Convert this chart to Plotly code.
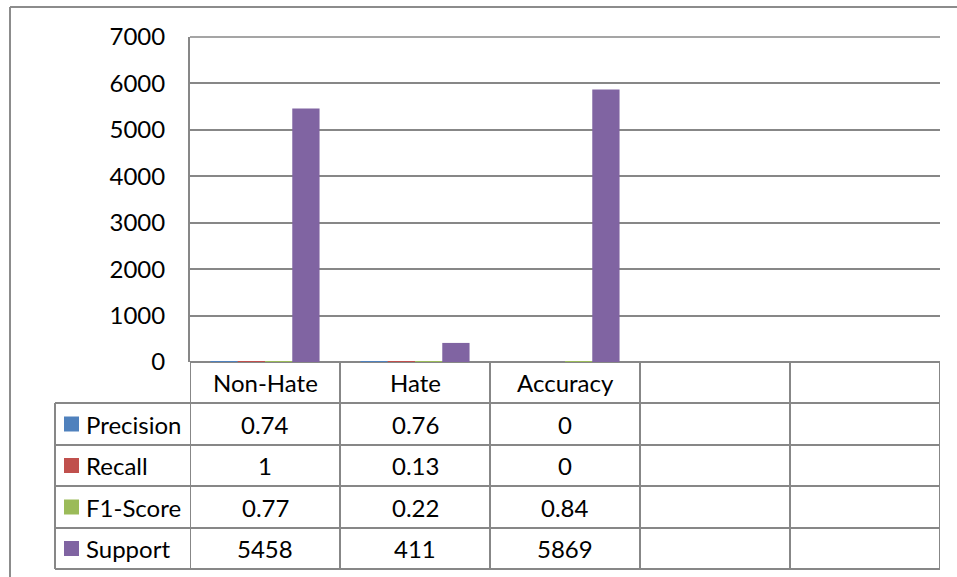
import plotly.graph_objects as go

# Classification report per class
categories = ["Non-Hate", "Hate", "Accuracy", " ", "  "]
series_names = ["Precision", "Recall", "F1-Score", "Support"]
precision = [0.74, 0.76, 0, None, None]
recall = [1, 0.13, 0, None, None]
f1_score = [0.77, 0.22, 0.84, None, None]
support = [5458, 411, 5869, None, None]
series_colors = ["#4F81BD", "#C0504D", "#9BBB59", "#8064A2"]
y_ticks = [0, 1000, 2000, 3000, 4000, 5000, 6000, 7000]

series_values = [precision, recall, f1_score, support]

W, H = 957, 577
L, R, T, B = 190, 17, 37, 215
PW, PH = W - L - R, H - T - B
FONT = "Lato"
FS = 24
GRID = "#878787"


def px_x(px):
    return (px - L) / PW


def px_y(py):
    return (H - B - py) / PH


fig = go.Figure()
for name, vals, col in zip(series_names, series_values, series_colors):
    fig.add_trace(go.Bar(x=categories, y=vals, name=name, marker_color=col,
                         marker_line_width=0, showlegend=False))

shapes = []
annotations = []

# top edge of the plot area (7000 gridline)
shapes.append(dict(type="line", xref="paper", yref="paper",
                   x0=0, x1=1, y0=1, y1=1, line=dict(color=GRID, width=1.5)))

# data table grid
row_lines = [362, 403, 445, 486, 528, 569]
table_left = 55
for i, py in enumerate(row_lines[1:]):
    shapes.append(dict(type="line", xref="paper", yref="paper",
                       x0=px_x(table_left), x1=1, y0=px_y(py), y1=px_y(py),
                       line=dict(color=GRID, width=2)))
shapes.append(dict(type="line", xref="paper", yref="paper",
                   x0=px_x(table_left), x1=px_x(table_left),
                   y0=px_y(row_lines[1]), y1=px_y(row_lines[-1]),
                   line=dict(color=GRID, width=2)))
for k in range(len(categories) + 1):
    shapes.append(dict(type="line", xref="x", yref="paper",
                       x0=k - 0.5, x1=k - 0.5,
                       y0=px_y(row_lines[0]), y1=px_y(row_lines[-1]),
                       line=dict(color=GRID, width=2)))

# header row: category names
hdr_y = px_y((row_lines[0] + row_lines[1]) / 2)
for k, c in enumerate(categories):
    annotations.append(dict(x=k, y=hdr_y, xref="x", yref="paper", text=c,
                            showarrow=False, font=dict(family=FONT, size=FS, color="black"),
                            xanchor="center", yanchor="middle"))

# series rows
for r, (name, vals, col) in enumerate(zip(series_names, series_values, series_colors)):
    yc = px_y((row_lines[r + 1] + row_lines[r + 2]) / 2)
    shapes.append(dict(type="rect", xref="paper", yref="paper",
                       x0=px_x(64), x1=px_x(79),
                       y0=yc - 7.5 / PH, y1=yc + 7.5 / PH,
                       fillcolor=col, line=dict(width=0)))
    annotations.append(dict(x=px_x(84), y=yc, xref="paper", yref="paper", text=name,
                            showarrow=False, font=dict(family=FONT, size=FS, color="black"),
                            xanchor="left", yanchor="middle"))
    for k, v in enumerate(vals):
        if v is None:
            continue
        annotations.append(dict(x=k, y=yc, xref="x", yref="paper", text=f"{v:g}",
                                showarrow=False, font=dict(family=FONT, size=FS, color="black"),
                                xanchor="center", yanchor="middle"))

# chart area frame (top and left edges)
shapes.append(dict(type="line", xref="paper", yref="paper",
                   x0=px_x(10), x1=px_x(W + 5), y0=px_y(7), y1=px_y(7),
                   line=dict(color="#8C8C8C", width=2)))
shapes.append(dict(type="line", xref="paper", yref="paper",
                   x0=px_x(10), x1=px_x(10), y0=px_y(7), y1=px_y(H + 5),
                   line=dict(color="#8C8C8C", width=2)))

fig.update_layout(
    width=W, height=H,
    margin=dict(l=L, r=R, t=T, b=B, autoexpand=False),
    paper_bgcolor="white", plot_bgcolor="white",
    barmode="group", bargap=1.5 / 5.5, bargroupgap=0,
    font=dict(family=FONT, size=FS, color="black"),
    shapes=shapes, annotations=annotations,
    xaxis=dict(type="category", categoryorder="array", categoryarray=categories,
               showticklabels=False, showgrid=False, zeroline=False,
               showline=False, ticks="", range=[-0.5, len(categories) - 0.5]),
    yaxis=dict(range=[0, 7000], tickvals=y_ticks, showgrid=True, gridcolor=GRID,
               gridwidth=1.5, zeroline=True, zerolinecolor=GRID, zerolinewidth=2,
               showline=True, linecolor=GRID, linewidth=2, ticks="",
               ticklabelstandoff=18, tickfont=dict(family=FONT, size=FS, color="black")),
)

fig.write_html("out.html")
